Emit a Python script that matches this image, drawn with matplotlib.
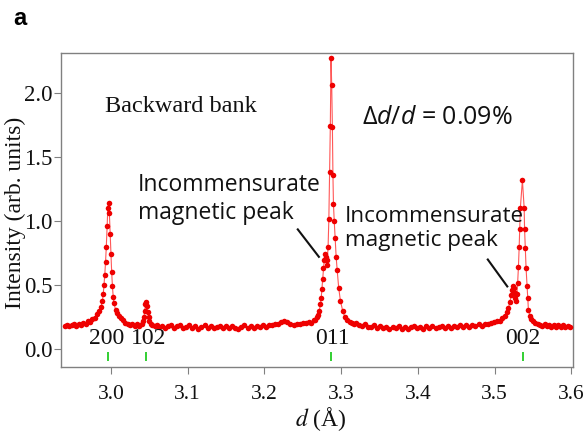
import matplotlib
matplotlib.use('Agg')
import matplotlib.pyplot as plt
import numpy as np

SERIF = 'Liberation Serif'
SANS = 'Open Sans'

plt.rcParams['mathtext.fontset'] = 'custom'
plt.rcParams['mathtext.rm'] = SANS
plt.rcParams['mathtext.it'] = SANS + ':italic'
plt.rcParams['mathtext.bf'] = SANS + ':bold'

#------------------------------------------------------------------------------
# backward bank profile, d in Angstrom, intensity in arb. units
d_200 = [2.940, 2.943, 2.946, 2.949, 2.952, 2.955, 2.958, 2.961, 2.964, 2.967,
         2.970, 2.973, 2.976, 2.979, 2.982, 2.985, 2.987, 2.989, 2.990, 2.991,
         2.992, 2.993, 2.994, 2.995, 2.996, 2.997, 2.998, 2.999, 3.000, 3.001,
         3.002, 3.003, 3.004, 3.006, 3.008, 3.010, 3.013, 3.016, 3.019, 3.022,
         3.025, 3.028]
i_200 = [0.180, 0.192, 0.178, 0.186, 0.196, 0.184, 0.198, 0.188, 0.206, 0.198,
         0.218, 0.210, 0.235, 0.245, 0.275, 0.300, 0.330, 0.380, 0.430, 0.500,
         0.580, 0.680, 0.800, 0.960, 1.100, 1.140, 1.060, 0.900, 0.740, 0.600,
         0.490, 0.410, 0.360, 0.310, 0.280, 0.260, 0.240, 0.225, 0.205, 0.198,
         0.188, 0.196]

d_102 = [3.031, 3.034, 3.037, 3.040, 3.042, 3.043, 3.044, 3.045, 3.046, 3.047,
         3.048, 3.049, 3.050, 3.052, 3.054, 3.057, 3.060, 3.063]
i_102 = [0.182, 0.194, 0.180, 0.200, 0.220, 0.250, 0.300, 0.350, 0.370, 0.340,
         0.290, 0.250, 0.220, 0.200, 0.186, 0.178, 0.190, 0.176]

d_mid = [3.066, 3.070, 3.074, 3.078, 3.082, 3.086, 3.090, 3.094, 3.098, 3.102,
         3.106, 3.110, 3.114, 3.118, 3.122, 3.126, 3.130, 3.134, 3.138, 3.142,
         3.146, 3.150, 3.154, 3.158, 3.162, 3.166, 3.170, 3.174, 3.178, 3.182,
         3.186, 3.190, 3.194, 3.198, 3.202, 3.206, 3.210, 3.214, 3.218, 3.222,
         3.226, 3.230, 3.234, 3.238, 3.242, 3.246, 3.250]
i_mid = [0.184, 0.168, 0.180, 0.190, 0.166, 0.178, 0.186, 0.162, 0.176, 0.186,
         0.168, 0.182, 0.160, 0.174, 0.186, 0.166, 0.180, 0.162, 0.173, 0.184,
         0.166, 0.178, 0.162, 0.180, 0.168, 0.160, 0.176, 0.186, 0.168, 0.180,
         0.164, 0.182, 0.172, 0.186, 0.174, 0.188, 0.186, 0.198, 0.200, 0.214,
         0.224, 0.212, 0.196, 0.186, 0.198, 0.194, 0.208]

d_011 = [3.254, 3.258, 3.261, 3.264, 3.266, 3.268, 3.270, 3.2715, 3.273, 3.274,
         3.275, 3.276, 3.277, 3.278, 3.279, 3.280, 3.281, 3.282, 3.283, 3.284,
         3.285, 3.2859, 3.2868, 3.2877, 3.2886, 3.2893, 3.2900, 3.2910, 3.2922, 3.2935,
         3.2948, 3.2968, 3.2990, 3.3020, 3.3050, 3.3080, 3.3110, 3.3140, 3.3170, 3.3200]
i_011 = [0.205, 0.216, 0.208, 0.228, 0.232, 0.255, 0.270, 0.300, 0.350, 0.400,
         0.470, 0.550, 0.630, 0.700, 0.740, 0.720, 0.660, 0.700, 0.800, 1.020,
         1.380, 1.740, 2.270, 2.060, 1.730, 1.360, 1.130, 1.000, 0.870, 0.720,
         0.620, 0.480, 0.380, 0.300, 0.250, 0.230, 0.215, 0.205, 0.196, 0.204]

d_gap = [3.323, 3.327, 3.331, 3.335, 3.339, 3.343, 3.347, 3.351, 3.355, 3.359,
         3.363, 3.367, 3.371, 3.375, 3.379, 3.383, 3.387, 3.391, 3.395, 3.399,
         3.403, 3.407, 3.411, 3.415, 3.419, 3.423, 3.427, 3.431, 3.435, 3.439,
         3.443, 3.447, 3.451, 3.455, 3.459, 3.463, 3.467, 3.471, 3.475, 3.479,
         3.483, 3.487, 3.491, 3.495]
i_gap = [0.192, 0.180, 0.194, 0.176, 0.170, 0.186, 0.166, 0.180, 0.162, 0.176,
         0.160, 0.176, 0.164, 0.178, 0.160, 0.174, 0.158, 0.172, 0.180, 0.162,
         0.176, 0.160, 0.178, 0.164, 0.179, 0.162, 0.176, 0.182, 0.166, 0.180,
         0.168, 0.184, 0.170, 0.186, 0.172, 0.188, 0.174, 0.190, 0.180, 0.194,
         0.184, 0.198, 0.196, 0.208]

d_002 = [3.499, 3.503, 3.507, 3.510, 3.513, 3.516, 3.518, 3.520, 3.5215, 3.523,
         3.524, 3.525, 3.526, 3.527, 3.528, 3.529, 3.530, 3.531, 3.532, 3.5327,
         3.5335, 3.5362, 3.5385, 3.539, 3.540, 3.541, 3.5423, 3.543, 3.544, 3.546,
         3.548, 3.550, 3.553, 3.556]
i_002 = [0.210, 0.220, 0.222, 0.240, 0.260, 0.290, 0.320, 0.370, 0.420, 0.460,
         0.490, 0.480, 0.440, 0.400, 0.380, 0.430, 0.520, 0.640, 0.800, 0.940,
         1.100, 1.320, 1.100, 0.940, 0.790, 0.630, 0.490, 0.400, 0.310, 0.260,
         0.235, 0.220, 0.205, 0.198]

d_end = [3.559, 3.562, 3.565, 3.568, 3.571, 3.574, 3.577, 3.580, 3.583, 3.586,
         3.589, 3.592, 3.595, 3.598]
i_end = [0.192, 0.182, 0.196, 0.180, 0.192, 0.176, 0.190, 0.174, 0.188, 0.172,
         0.186, 0.170, 0.184, 0.176]

# reflection positions and labels
hkl_labels = ['200', '102', '011', '002']
hkl_pos = [2.9965, 3.046, 3.287, 3.537]
hkl_text_x = [2.995, 3.049, 3.289, 3.536]

x_ticks = [3.0, 3.1, 3.2, 3.3, 3.4, 3.5, 3.6]
y_ticks = [0.0, 0.5, 1.0, 1.5, 2.0]

#------------------------------------------------------------------------------
def main():
  d = np.concatenate([d_200, d_102, d_mid, d_011, d_gap, d_002, d_end])
  inten = np.concatenate([i_200, i_102, i_mid, i_011, i_gap, i_002, i_end])

  fig = plt.figure(figsize=(5.84, 4.32), dpi=100)
  ax = fig.add_axes([0.1045, 0.150, 0.8765, 0.727])

  ax.plot(d, inten, color='#ff1010', lw=0.8, alpha=0.7, zorder=2)
  ax.plot(d, inten, ls='none', marker='o', ms=4.0, mec='none', mfc='#ee0000', zorder=3)

  # tick marks for the nuclear reflections
  ax.vlines(hkl_pos, -0.09, -0.02, color='#22cc22', lw=1.3)
  for lab, x in zip(hkl_labels, hkl_text_x):
    ax.text(x, 0.086, lab, family=SERIF, fontsize=17, ha='center', va='center', color='#111111')

  ax.set_xlim(2.935, 3.602)
  ax.set_ylim(-0.14, 2.31)
  ax.set_xticks(x_ticks)
  ax.set_yticks(y_ticks)
  ax.set_xticklabels(['{:.1f}'.format(v) for v in x_ticks], family=SERIF, fontsize=15.5)
  ax.set_yticklabels(['{:.1f}'.format(v) for v in y_ticks], family=SERIF, fontsize=16.5)
  ax.tick_params(direction='out', length=5, width=0.8, color='#808080', labelcolor='#111111')
  ax.tick_params(axis='x', pad=8)
  ax.tick_params(axis='y', pad=1)
  for s in ax.spines.values():
    s.set_color('#808080')
    s.set_linewidth(1.0)

  ax.set_ylabel('Intensity (arb. units)', family=SERIF, fontsize=17, color='#111111', va='center')
  ax.yaxis.set_label_coords(-0.09, 0.49)
  ax.set_xlabel(r'$d$ (Å)', family=SERIF, fontsize=17, color='#111111', math_fontfamily='stix')
  ax.xaxis.set_label_coords(0.508, -0.12)

  ax.text(2.992, 1.89, 'Backward bank', family=SERIF, fontsize=17.5, ha='left', va='center',
          color='#111111')
  ax.text(3.327, 1.81, r'$\Delta d/d$ = 0.09%', family=SANS, fontsize=18, ha='left', va='center',
          color='#111111')
  ax.text(3.035, 1.17, 'Incommensurate\nmagnetic peak', family=SANS, fontsize=16.5, ha='left',
          va='center', linespacing=1.2, color='#111111')
  ax.text(3.305, 0.945, 'Incommensurate\nmagnetic peak', family=SANS, fontsize=16.2, ha='left',
          va='center', linespacing=1.2, color='#111111')
  ax.plot([3.2435, 3.271], [0.935, 0.721], color='#111111', lw=1.5)
  ax.plot([3.4911, 3.5165], [0.70, 0.49], color='#111111', lw=1.5)

  fig.text(0.034, 0.958, 'a', family='Liberation Sans', fontweight='bold', fontsize=17,
           ha='center', va='center')

  fig.savefig('out.png', dpi=100)

#------------------------------------------------------------------------------
if __name__ == '__main__':
  main()
